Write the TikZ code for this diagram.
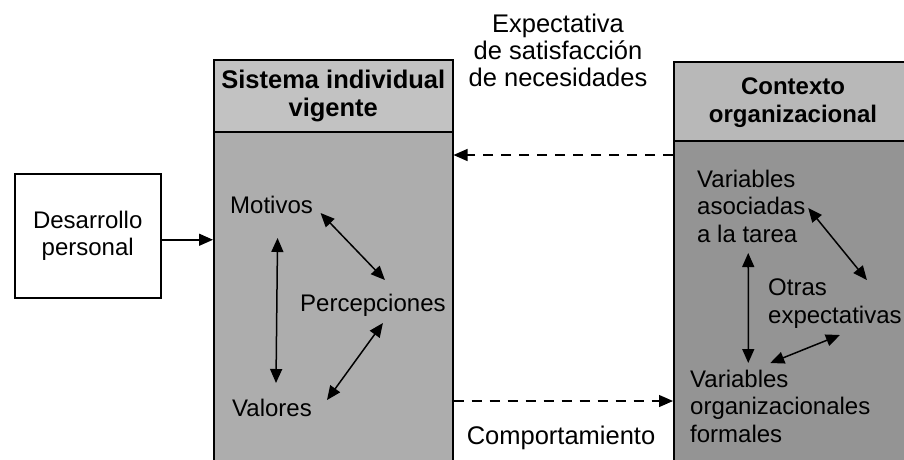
\documentclass[tikz,border=0pt]{standalone}
\usepackage{fontspec}
\setmainfont{Liberation Sans}
\usetikzlibrary{arrows.meta}
\begin{document}
\begin{tikzpicture}[x=1pt,y=-1pt,
  txt/.style={font=\fontsize{24}{27.5}\selectfont, inner sep=0pt, align=left},
  otxt/.style={font=\fontsize{25.5}{27}\selectfont, inner sep=0pt, align=center},
  ttl/.style={font=\fontsize{24}{28}\selectfont\bfseries, inner sep=0pt, align=center},
  box/.style={draw=black, line width=1.5pt, inner sep=0pt},
  tip/.tip={Triangle[length=14pt,width=12pt]},
  arr/.style={line width=1.5pt, tip-tip},
  sarr/.style={line width=1.5pt, -tip},
  darr/.style={line width=1.2pt, dash pattern=on 10pt off 8pt, -tip}]
\useasboundingbox (0,0) rectangle (904,459);
\clip (0,0) rectangle (904,459);

% left box
\node[box, fill=white, minimum width=146pt, minimum height=124pt, anchor=north west] (des) at (14,173) {};
\node[txt, align=center] (dest) at (des.center) {Desarrollo\\personal};

% middle box
\node[box, fill=black!32, minimum width=239pt, minimum height=430pt, anchor=north west] (sis) at (213,59) {};
\node[box, fill=black!24, minimum width=239pt, minimum height=72pt, anchor=north west] (sish) at (213,59) {};
\node[ttl, font=\fontsize{25.5}{28}\selectfont\bfseries] (sist) at (sish.center) {Sistema individual\\vigente};

% right box
\node[box, fill=black!42, minimum width=250pt, minimum height=430pt, anchor=north west] (ctx) at (673,61) {};
\node[box, fill=black!28, minimum width=250pt, minimum height=79pt, anchor=north west] (ctxh) at (673,61) {};
\node[ttl] (ctxt) at (793,103) {Contexto\\organizacional};

% outer labels
\node[otxt] (exp) at (558,50) {Expectativa\\de satisfacción\\de necesidades};
\node[otxt] (comp) at (561,438) {Comportamiento};

% connectors between boxes
\draw[sarr] ([yshift=-4pt]des.east) -- ([yshift=-4pt]des.east -| sis.west);
\draw[darr] (ctx.west |- 0,155) -- (sis.east |- 0,155);
\draw[darr] (sis.east |- 0,401) -- (ctx.west |- 0,401);

% middle contents
\node[txt, anchor=west] (mot) at (230,205) {Motivos};
\node[txt, anchor=west] (per) at (300,305) {Percepciones};
\node[txt, anchor=west] (val) at (232,408) {Valores};
\draw[arr] ([xshift=6pt,yshift=-33pt]mot.center) -- ([xshift=4pt,yshift=25pt]val.center);
\draw[arr] ([xshift=49pt,yshift=-8pt]mot.center) -- ([xshift=12pt,yshift=25pt]per.center);
\draw[arr] ([xshift=55pt,yshift=8pt]val.center) -- ([xshift=10pt,yshift=-18pt]per.center);

% right contents
\node[txt, anchor=west] (vat) at (697,206) {Variables\\asociadas\\a la tarea};
\node[txt, anchor=west] (otr) at (768,303.5) {Otras\\expectativas};
\node[txt, anchor=west] (vof) at (690,406) {Variables\\organizacionales\\formales};
\draw[arr] ([xshift=57pt,yshift=-2pt]vat.center) -- ([xshift=32pt,yshift=23.5pt]otr.center);
\draw[arr] ([xshift=-3pt,yshift=-47pt]vat.center) -- ([xshift=-32pt,yshift=43pt]vof.center);
\draw[arr] ([xshift=-10pt,yshift=43pt]vof.center) -- ([xshift=5pt,yshift=-31.5pt]otr.center);
\end{tikzpicture}
\end{document}
